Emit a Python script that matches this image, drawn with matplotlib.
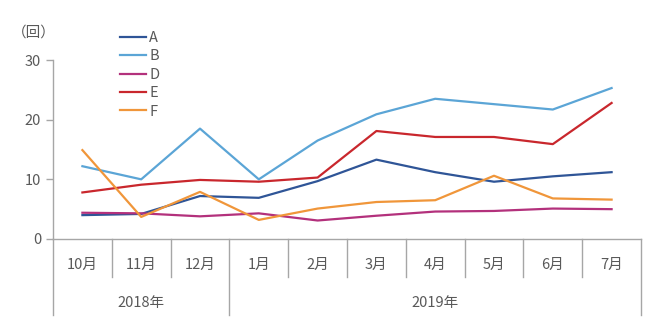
import numpy as np
import matplotlib.pyplot as plt
import matplotlib.transforms as mtransforms

plt.rcParams['font.family'] = ['Noto Sans CJK JP', 'DejaVu Sans']

# data
months = ['10月', '11月', '12月', '1月', '2月', '3月', '4月', '5月', '6月', '7月']
years = ['2018年', '2019年']
year_span = [3, 7]  # months in each year group
A = [4.0, 4.2, 7.2, 6.9, 9.7, 13.3, 11.2, 9.6, 10.5, 11.2]
B = [12.2, 10.0, 18.5, 10.0, 16.5, 20.9, 23.5, 22.6, 21.7, 25.3]
D = [4.4, 4.3, 3.8, 4.3, 3.1, 3.9, 4.6, 4.7, 5.1, 5.0]
E = [7.8, 9.1, 9.9, 9.6, 10.3, 18.1, 17.1, 17.1, 15.9, 22.8]
F = [14.9, 3.7, 7.9, 3.2, 5.1, 6.2, 6.5, 10.6, 6.8, 6.6]

series = [('A', A, '#2F5597'), ('B', B, '#5BA5D6'), ('D', D, '#B3317C'),
          ('E', E, '#C9272D'), ('F', F, '#F0963A')]

grey = '#A6A6A6'
txt = '#595959'

fig = plt.figure(figsize=(6.55, 3.29), dpi=100)
ax = fig.add_axes([53/655, 1-239/329, (641-53)/655, (239-60)/329])

x = np.arange(len(months))
for name, vals, c in series:
    ax.plot(x, vals, color=c, lw=1.6, label=name)

ax.set_xlim(-0.5, len(months)-0.5)
ax.set_ylim(0, 30)
ax.set_yticks([0, 10, 20, 30])
ax.set_xticks([])
for s in ['top', 'right']:
    ax.spines[s].set_visible(False)
for s in ['left', 'bottom']:
    ax.spines[s].set_color(grey)
    ax.spines[s].set_linewidth(1.0)
ax.tick_params(axis='y', colors=grey, labelcolor=txt, labelsize=10.5, length=5, width=1.0)

# category axis below the plot
tr = mtransforms.blended_transform_factory(ax.transData, ax.transAxes)
for i, m in enumerate(months):
    ax.text(i, -0.145, m, transform=tr, ha='center', va='center', fontsize=10.5, color=txt)
bounds = np.cumsum([0] + year_span) - 0.5
for i in range(len(months) + 1):
    xb = i - 0.5
    low = -0.425 if xb in bounds else -0.212
    ax.plot([xb, xb], [0, low], transform=tr, color=grey, lw=1.0, clip_on=False)
for j, yname in enumerate(years):
    mid = (bounds[j] + bounds[j+1]) / 2
    ax.text(mid, -0.355, yname, transform=tr, ha='center', va='center', fontsize=10.5, color=txt)

fig.text(12/655, 1-33/329, '（回）', fontsize=10.5, color=txt, ha='left', va='center')

leg = ax.legend(loc='upper left', bbox_to_anchor=(120/655, 1-31/329), bbox_transform=fig.transFigure,
                frameon=False, fontsize=10.5, handlelength=1.75, handletextpad=0.25,
                labelspacing=0.3, borderaxespad=0, borderpad=0)
for t in leg.get_texts():
    t.set_color(txt)

plt.savefig('out.png', dpi=100)
